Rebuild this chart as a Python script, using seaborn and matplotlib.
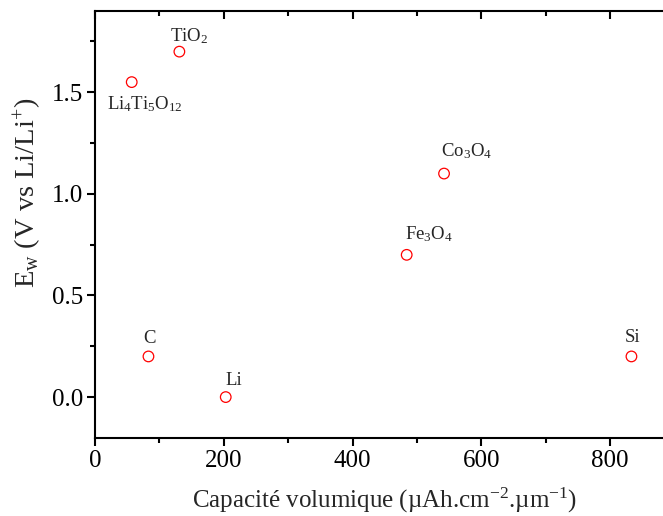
import matplotlib
matplotlib.use("Agg")
import matplotlib.pyplot as plt
import matplotlib.transforms as mtransforms
import seaborn as sns
import pandas as pd
from matplotlib.ticker import MultipleLocator, FormatStrFormatter

materials = ["Li4Ti5O12", "TiO2", "C", "Li", "Fe3O4", "Co3O4", "Si"]
capacity = [57, 131, 83, 203, 484, 542, 833]
potential = [1.55, 1.70, 0.20, 0.00, 0.70, 1.10, 0.20]
labels = [r"Li$_4$Ti$_5$O$_{12}$", r"TiO$_2$", "C", "Li", r"Fe$_3$O$_4$", r"Co$_3$O$_4$", "Si"]
# label offsets in points (dx, dy to baseline) and horizontal alignment
offsets = [(-18, -19.5, "left"), (-6.5, 7.5, "left"), (0.8, 10, "center"), (0, 8.5, "left"),
           (-1.5, 11, "left"), (-2, 12.5, "left"), (0.8, 10.3, "center")]

df = pd.DataFrame({"material": materials, "capacity": capacity, "potential": potential})

sns.set_theme(style="ticks")
plt.rcParams["font.family"] = ["Liberation Serif", "DejaVu Serif"]
plt.rcParams["mathtext.fontset"] = "custom"
plt.rcParams["mathtext.rm"] = "Liberation Serif"
plt.rcParams["mathtext.it"] = "Liberation Serif:italic"
plt.rcParams["mathtext.bf"] = "Liberation Serif:bold"

fig = plt.figure(figsize=(6.63, 5.16), dpi=100)
ax = fig.add_axes([0.1433, 0.1517, 1.0 - 0.1433, 0.9787 - 0.1517])

sns.scatterplot(data=df, x="capacity", y="potential", ax=ax, marker="o",
                s=58, facecolors="none", edgecolor="red", linewidth=0.9, legend=False)

for x, y, lab, (dx, dy, ha) in zip(capacity, potential, labels, offsets):
    ax.annotate(lab, (x, y), xytext=(dx, dy), textcoords="offset points",
                ha=ha, va="baseline", fontsize=13.5)

ax.set_xlim(0, 882)
ax.set_ylim(-0.2, 1.9)
ax.xaxis.set_major_locator(MultipleLocator(200))
ax.xaxis.set_minor_locator(MultipleLocator(100))
ax.yaxis.set_major_locator(MultipleLocator(0.5))
ax.yaxis.set_minor_locator(MultipleLocator(0.25))
ax.yaxis.set_major_formatter(FormatStrFormatter("%.1f"))

ax.spines["right"].set_visible(False)
for s in ["left", "bottom", "top"]:
    ax.spines[s].set_linewidth(1.5)
    ax.spines[s].set_color("black")

ax.tick_params(axis="both", which="major", direction="out", length=6, width=1.5,
               labelsize=18, colors="black", pad=2.5)
ax.tick_params(axis="both", which="minor", direction="out", length=3.5, width=1.5, colors="black")

# top mirror ticks pointing inward, at the axis' own tick locations
xmin, xmax = ax.get_xlim()
major_locs = [v for v in ax.xaxis.get_majorticklocs() if xmin <= v <= xmax]
minor_locs = [v for v in ax.xaxis.get_minorticklocs() if xmin <= v <= xmax and v not in major_locs]
ax_h_px = fig.get_figheight() * fig.dpi * (0.9787 - 0.1517)
maj_frac = (6.0 / 72 * fig.dpi) / ax_h_px
min_frac = (3.5 / 72 * fig.dpi) / ax_h_px
top_tf = mtransforms.blended_transform_factory(ax.transData, ax.transAxes)
ax.vlines(major_locs, 1.0 - maj_frac, 1.0, transform=top_tf, colors="black",
          linewidth=1.5, clip_on=False, zorder=10)
ax.vlines(minor_locs, 1.0 - min_frac, 1.0, transform=top_tf, colors="black",
          linewidth=1.5, clip_on=False, zorder=10)
ax.set_xlim(xmin, xmax)
ax.set_ylim(-0.2, 1.9)

ax.set_xlabel(r"Capacité volumique (µAh.cm$^{\mathrm{-2}}$.µm$^{\mathrm{-1}}$)", fontsize=18)
ax.set_ylabel(r"E$_{\mathrm{w}}$ (V vs Li/Li$^{+}$)", fontsize=20.5)
ax.xaxis.set_label_coords(0.51, -0.112)
ax.yaxis.set_label_coords(-0.09, 0.575)

fig.savefig("out.png", dpi=100)
